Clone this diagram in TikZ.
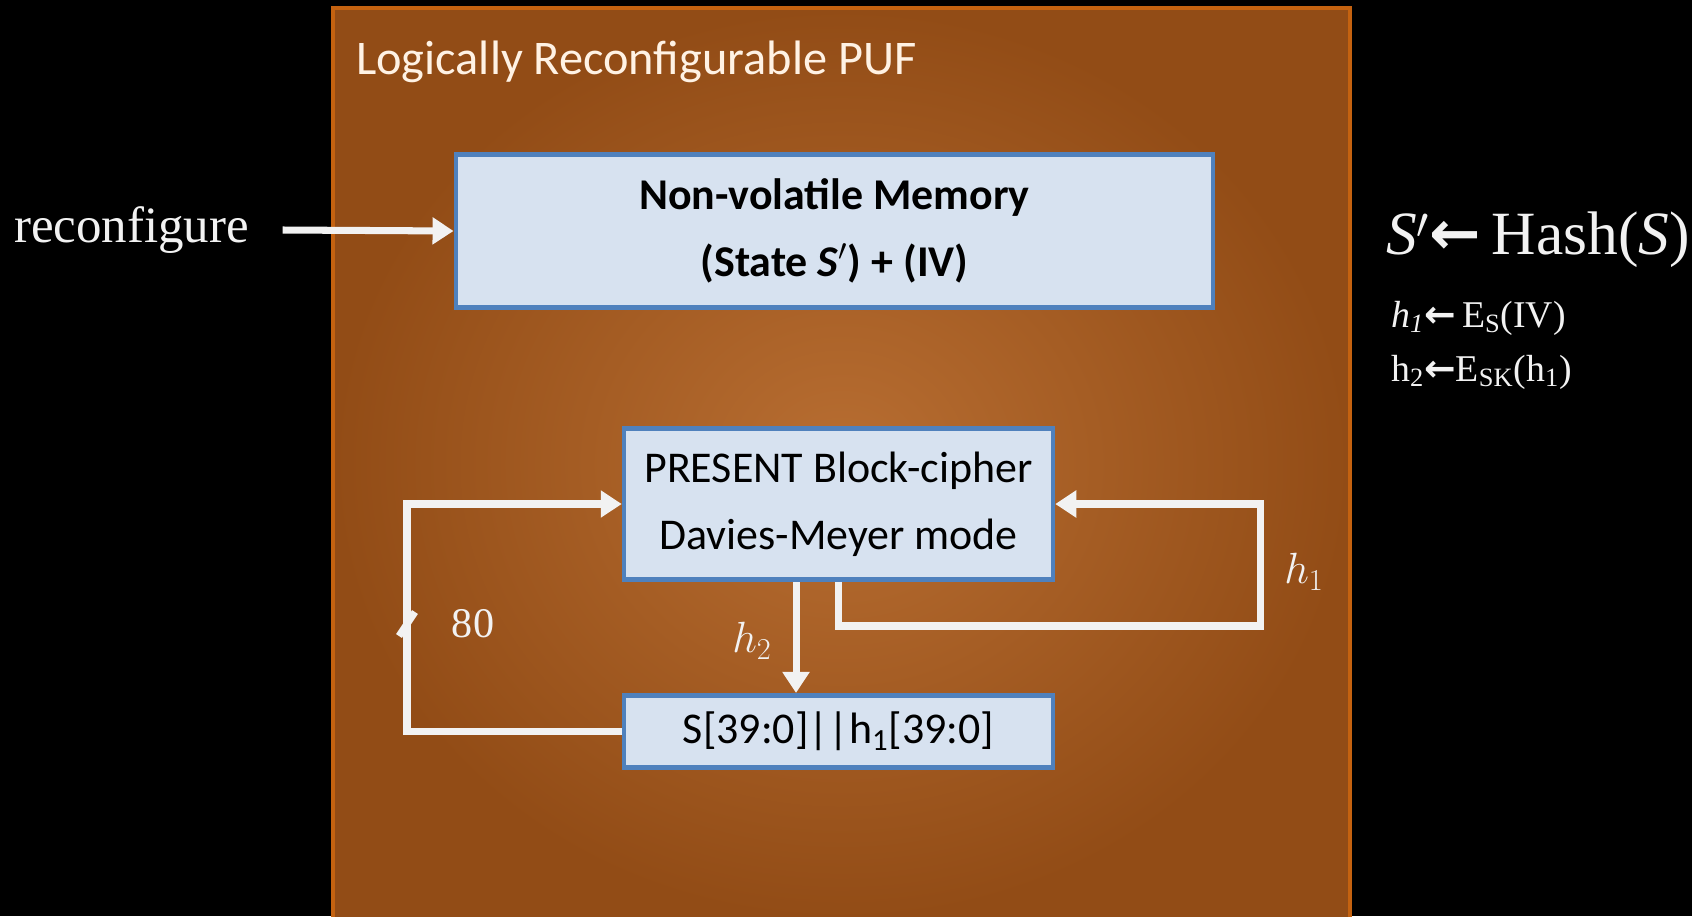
\documentclass[tikz,border=0pt]{standalone}
\usepackage{fontspec}
\setmainfont{Carlito}
\newfontfamily\serifface{Liberation Serif}
\newfontfamily\arrowface{DejaVu Sans}
\usepackage{tikz}
\usetikzlibrary{arrows.meta,positioning,calc}
\usepackage{xcolor}

\definecolor{pufedge}{RGB}{196,98,16}
\definecolor{pufdark}{RGB}{146,76,22}
\definecolor{puflight}{RGB}{184,110,50}
\definecolor{boxfill}{RGB}{215,226,240}
\definecolor{boxline}{RGB}{79,129,189}
\definecolor{cream}{RGB}{255,242,228}
\definecolor{wire}{RGB}{242,242,242}

\begin{document}
\begin{tikzpicture}[x=0.02cm, y=-0.02cm,
    block/.style={rectangle, draw=boxline, fill=boxfill, line width=2.6pt, align=center,
      text=black, font=\fontsize{25}{38}\selectfont},
    arr/.style={draw=wire, line width=4pt, -{Triangle[length=0.42cm,width=0.52cm]}},
    plain/.style={draw=wire, line width=4pt},
    lbl/.style={text=wire, font=\serifface\fontsize{24}{28}\selectfont}]

    % page and panel
    \fill[black] (0,0) rectangle (1692,916);
    \useasboundingbox (0,0) rectangle (1692,916);
    \shade[inner color=puflight, outer color=pufdark] (333,8) rectangle (1350,920);
    \draw[pufedge, line width=1.8pt] (333,8) rectangle (1350,920);
    \node[anchor=west, text=cream, font=\fontsize{27.5}{30}\selectfont] (title) at (350,62) {Logically Reconfigurable PUF};

    % blocks
    \node[block, font=\bfseries\fontsize{25}{38}\selectfont, minimum width=15.15cm, minimum height=3.05cm] (mem) at (834.5,231)
        {Non-volatile Memory\\(State \textit{S}$'$) + (IV)};
    \node[block, minimum width=8.58cm, minimum height=3.03cm] (cipher) at (838.5,504)
        {PRESENT Block-cipher\\Davies-Meyer mode};
    \node[block, minimum width=8.58cm, minimum height=1.45cm] (concat) at (838.5,731.5)
        {S[39:0]||h\textsubscript{1}[39:0]};

    % outside texts
    \node[anchor=west, text=wire, font=\serifface\fontsize{29}{32}\selectfont] (reconf) at (8,230) {reconfigure};
    \node[anchor=west, text=wire, font=\serifface\fontsize{35}{40}\selectfont] (hash) at (1380,240)
        {\textit{S}$'${\arrowface\bfseries ←}\,Hash(\textit{S})};
    \node[anchor=west, text=wire, font=\serifface\fontsize{21.5}{24}\selectfont] (eq1) at (1385,318)
        {\textit{h\textsubscript{1}}{\arrowface\bfseries ←}\,E\textsubscript{S}(IV)};
    \node[anchor=west, text=wire, font=\serifface\fontsize{21.5}{24}\selectfont] (eq2) at (1385,372)
        {h\textsubscript{2}{\arrowface\bfseries ←}E\textsubscript{SK}(h\textsubscript{1})};

    % corners of the loops
    \coordinate (lft) at (407,624);
    \coordinate (rgt) at (1260,626);

    % connectors
    \draw[arr] ([xshift=0.55cm]reconf.east) -- (mem.west);
    \draw[arr] (concat.west) -| (lft) |- (cipher.west);
    \draw[plain] ($(lft)+(-8,12)$) -- ($(lft)+(8,-12)$);
    \draw[arr] (cipher.south) |- (rgt) |- (cipher.east);
    \draw[arr] ([xshift=-0.85cm]cipher.south) -- ([xshift=-0.85cm]concat.north);

    % wire labels
    \node[lbl] (w80) at (473,624) {80};
    \node[lbl] (wh1) at (1304,572) {$h_1$};
    \node[lbl] (wh2) at (752,641) {$h_2$};
\end{tikzpicture}
\end{document}
